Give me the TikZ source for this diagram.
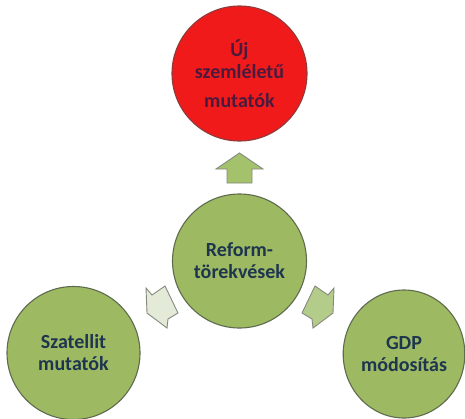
\documentclass[tikz,border=0pt]{standalone}
\usepackage{fontspec}
\setmainfont{Carlito}
\usetikzlibrary{shapes.geometric}
\definecolor{olivefill}{HTML}{9DBA62}
\definecolor{oliveedge}{HTML}{5F6B4E}
\definecolor{redfill}{HTML}{F01A1A}
\definecolor{rededge}{HTML}{8E3B3B}
\definecolor{navytext}{HTML}{1E3550}
\definecolor{redtext}{HTML}{4A1A3E}
\definecolor{arrowedge}{HTML}{858A7E}
\definecolor{arrowtop}{HTML}{A4C16C}
\definecolor{arrowleft}{HTML}{E3EAD8}
\definecolor{arrowright}{HTML}{B4CC8A}
\tikzset{
  ball/.style={circle, fill=olivefill, draw=oliveedge, line width=1.1pt, inner sep=0pt,
    align=center, text=navytext, font=\fontsize{20}{22}\selectfont\bfseries},
  redball/.style={ball, fill=redfill, draw=rededge, text=redtext},
  blockarrow/.style={draw=arrowedge, line width=0.9pt, line join=miter}
}
\begin{document}
\begin{tikzpicture}[x=1pt,y=-1pt]
\useasboundingbox (0,0) rectangle (465,418);
\fill[white] (0,0) rectangle (465,418);
\node[redball, minimum size=135pt] (top) at (239.5,73.5) {Új\\szemléletű\\[7pt]mutatók};
\node[ball, minimum size=134pt] (center) at (239.5,261) {Reform-\\törekvések};
\node[ball, minimum size=133pt] (left) at (73.5,353) {Szatellit\\mutatók};
\node[ball, ellipse, minimum width=118pt, minimum height=128pt] (right) at (404,354) {GDP\\módosítás};
% block arrows
\filldraw[blockarrow, fill=arrowtop] (239.5,153) -- (263,169) -- (252,169) -- (252,183)
  -- (227,183) -- (227,169) -- (216,169) -- cycle;
\filldraw[blockarrow, fill=arrowleft] (146,288) -- (152,295) -- (165,286) -- (178,313)
  -- (168,319) -- (167,328) -- (147,313) -- cycle;
\filldraw[blockarrow, fill=arrowright] (334,288) -- (328,295) -- (315,286) -- (302,313)
  -- (312,319) -- (313,328) -- (333,313) -- cycle;
\end{tikzpicture}
\end{document}
